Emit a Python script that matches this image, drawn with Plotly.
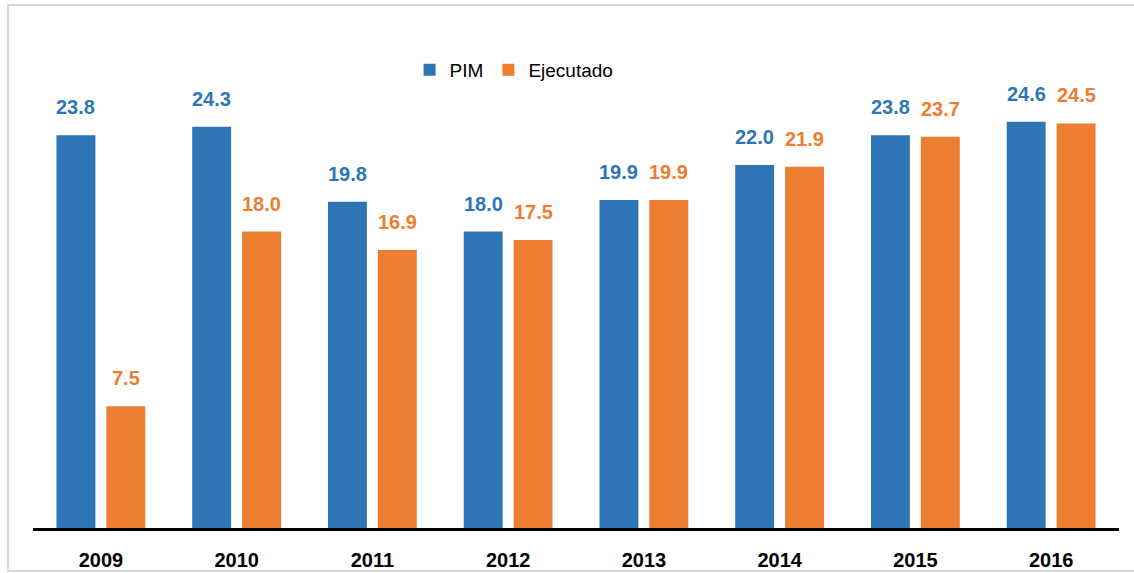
import plotly.graph_objects as go

# Data
years = ["2009", "2010", "2011", "2012", "2013", "2014", "2015", "2016"]
pim = [23.8, 24.3, 19.8, 18.0, 19.9, 22.0, 23.8, 24.6]
ejecutado = [7.5, 18.0, 16.9, 17.5, 19.9, 21.9, 23.7, 24.5]

BLUE = "#2E75B6"
ORANGE = "#ED7D31"
FONT = "Liberation Sans, Arial, sans-serif"

fig = go.Figure()
fig.add_trace(go.Bar(name="PIM", x=years, y=pim, marker_color=BLUE, marker_line_width=0))
fig.add_trace(go.Bar(name="Ejecutado", x=years, y=ejecutado, marker_color=ORANGE, marker_line_width=0))

# Value labels above each bar (x given as category index)
annotations = []
for series, color, shift in ((pim, BLUE, -25), (ejecutado, ORANGE, 25)):
    for i, v in enumerate(series):
        annotations.append(dict(
            x=i, y=v, xref="x", yref="y", text=f"<b>{v:.1f}</b>",
            showarrow=False, xshift=shift, yshift=15, yanchor="bottom",
            font=dict(family=FONT, size=20, color=color),
        ))

fig.update_layout(
    width=1134, height=573,
    margin=dict(l=33, r=15, t=32, b=42, autoexpand=False),
    paper_bgcolor="white", plot_bgcolor="white",
    barmode="group", bargap=0.265, bargroupgap=0.22,
    font=dict(family=FONT, color="black"),
    showlegend=True,
    legend=dict(
        orientation="h", x=0.443, xanchor="center", y=0.924, yanchor="middle",
        font=dict(family=FONT, size=19, color="black"),
        bgcolor="rgba(0,0,0,0)", traceorder="normal",
    ),
    xaxis=dict(
        type="category", automargin=False,
        showgrid=False, zeroline=False, showline=False, ticks="",
        tickfont=dict(family=FONT, size=20, color="black"),
        tickprefix="<b>", ticksuffix="</b>",
        ticklabelstandoff=15,
    ),
    yaxis=dict(range=[0, 30], visible=False, showgrid=False, zeroline=False),
    annotations=annotations,
    shapes=[
        # thick baseline
        dict(type="line", xref="paper", yref="y", x0=0, x1=1, y0=0, y1=0,
             line=dict(color="black", width=6), layer="above"),
        # chart frame
        dict(type="rect", xref="paper", yref="paper",
             x0=(8 - 33) / 1086, x1=1.1, y0=(531 - 571) / 499, y1=(531 - 5) / 499,
             line=dict(color="#D9D9D9", width=2), layer="below"),
    ],
)

fig.write_html("out.html")
